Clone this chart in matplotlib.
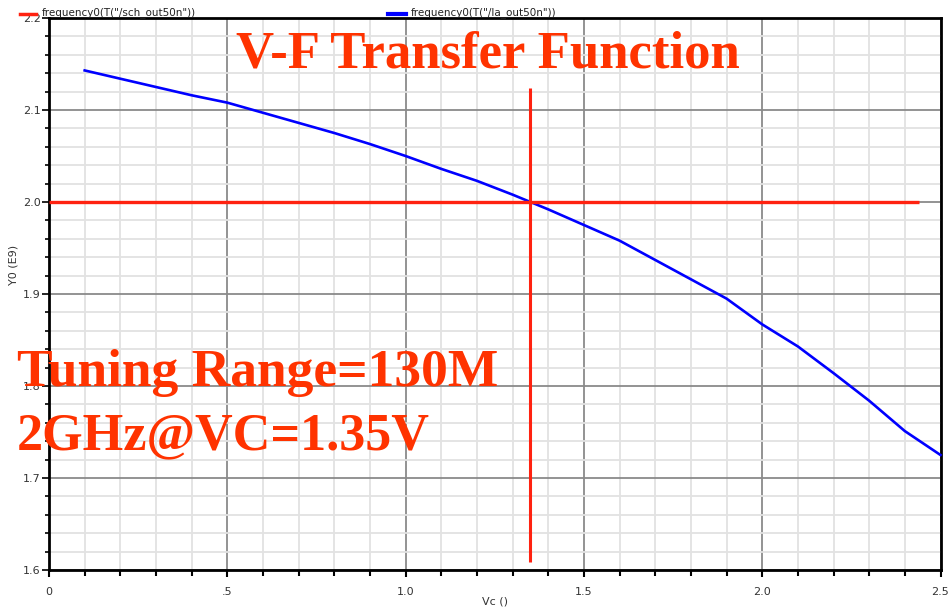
import matplotlib
matplotlib.use("Agg")
import matplotlib.pyplot as plt
from matplotlib.lines import Line2D
from matplotlib.ticker import MultipleLocator, FixedLocator

# Oscillation frequency (GHz) versus control voltage Vc (V)
vc = [0.1, 0.2, 0.3, 0.4, 0.5, 0.6, 0.7, 0.8, 0.9, 1.0, 1.1, 1.2, 1.3, 1.35,
      1.4, 1.5, 1.6, 1.7, 1.8, 1.9, 2.0, 2.1, 2.2, 2.3, 2.4, 2.5]
freq = [2.143, 2.134, 2.125, 2.116, 2.108, 2.097, 2.086, 2.075, 2.063, 2.050,
        2.036, 2.023, 2.008, 2.000, 1.992, 1.975, 1.958, 1.937, 1.916, 1.895,
        1.867, 1.843, 1.814, 1.784, 1.751, 1.725]

# Operating-point markers
f_target = 2.0
vc_target = 1.35
hline_span = [0.0, 2.44]
vline_span = [1.609, 2.124]

x_ticks = [0.0, 0.5, 1.0, 1.5, 2.0, 2.5]
x_ticklabels = ["0", ".5", "1.0", "1.5", "2.0", "2.5"]
y_ticks = [1.6, 1.7, 1.8, 1.9, 2.0, 2.1, 2.2]
y_ticklabels = ["1.6", "1.7", "1.8", "1.9", "2.0", "2.1", "2.2"]

legend_labels = ['frequency0(T("/sch_out50n"))', 'frequency0(T("/la_out50n"))']
title_text = "V-F Transfer Function"
note_lines = ["Tuning Range=130M", "2GHz@VC=1.35V"]

W, H = 950, 608
fig = plt.figure(figsize=(W / 100, H / 100), dpi=100)
fig.patch.set_facecolor("white")


def fx(px):
    return px / W


def fy(py):
    return 1 - py / H


ax = fig.add_axes([fx(49), fy(570), fx(940.5) - fx(49), fy(18) - fy(570)])
ax.set_xlim(0, 2.5)
ax.set_ylim(1.6, 2.2)

# grid: light minor lines, darker major lines
ax.xaxis.set_major_locator(FixedLocator(x_ticks))
ax.xaxis.set_minor_locator(MultipleLocator(0.1))
ax.yaxis.set_major_locator(FixedLocator(y_ticks))
ax.yaxis.set_minor_locator(MultipleLocator(0.02))
ax.grid(which="minor", color="#e2e2e2", linewidth=1.3, zorder=0)
ax.grid(which="major", color="#8a8a8a", linewidth=1.3, zorder=0.5)
ax.set_axisbelow(True)

ax.set_xticklabels(x_ticklabels)
ax.set_yticklabels(y_ticklabels)
for lab in ax.get_xticklabels() + ax.get_yticklabels():
    lab.set_fontfamily("DejaVu Sans")
    lab.set_fontsize(8)
    lab.set_color("#333333")
ax.tick_params(axis="x", which="major", length=5, width=1.5, pad=7, direction="out")
ax.tick_params(axis="x", which="minor", length=4, width=1.5, direction="out")
ax.tick_params(axis="y", which="major", length=5, width=1.2, pad=1, direction="out")
ax.tick_params(axis="y", which="minor", length=3, width=1.2, direction="out")

for sp in ax.spines.values():
    sp.set_color("black")
    sp.set_linewidth(2)

ax.set_xlabel("Vc ()", fontsize=8, color="#333333", labelpad=0)
ax.set_ylabel("Y0 (E9)", fontsize=8, color="#333333")
ax.yaxis.set_label_coords(-0.034, 0.553)

# data curve
ax.plot(vc, freq, color="#0000ff", linewidth=1.9, zorder=3, clip_on=False)

# operating-point crosshair
red = "#ff2210"
ax.plot(hline_span, [f_target, f_target], color=red, linewidth=2.4, zorder=4,
        solid_capstyle="butt")
ax.plot([vc_target, vc_target], vline_span, color=red, linewidth=2.2, zorder=4,
        solid_capstyle="butt")

# legend entries along the top edge
fig.add_artist(Line2D([fx(20), fx(36)], [fy(14), fy(14)], color=red, linewidth=2.5))
fig.text(fx(42), fy(13), legend_labels[0], fontsize=7.5, color="#222222",
         va="center", ha="left")
fig.add_artist(Line2D([fx(388), fx(406)], [fy(14), fy(14)], color="#0000ff",
                      linewidth=3))
fig.text(fx(411), fy(13), legend_labels[1], fontsize=7.5, color="#222222",
         va="center", ha="left")

# annotations
orange = "#ff3300"
fig.text(fx(488), fy(68), title_text, fontsize=38, fontweight="bold",
         family="Liberation Serif", color=orange, ha="center", va="baseline",
         zorder=5)
fig.text(fx(17), fy(386), note_lines[0], fontsize=38.5, fontweight="bold",
         family="Liberation Serif", color=orange, ha="left", va="baseline",
         zorder=5)
fig.text(fx(17), fy(449), note_lines[1], fontsize=37.5, fontweight="bold",
         family="Liberation Serif", color=orange, ha="left", va="baseline",
         zorder=5)

fig.savefig("out.png", dpi=100, facecolor="white")
